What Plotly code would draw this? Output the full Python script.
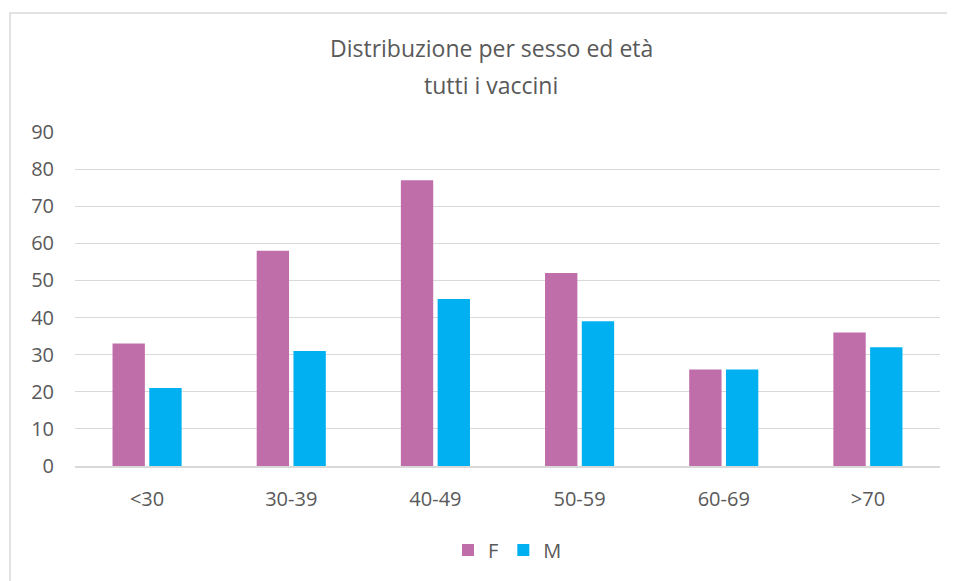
import plotly.graph_objects as go

categories = ["<30", "30-39", "40-49", "50-59", "60-69", ">70"]
f_values = [33, 58, 77, 52, 26, 36]
m_values = [21, 31, 45, 39, 26, 32]
y_ticks = [0, 10, 20, 30, 40, 50, 60, 70, 80, 90]
title_lines = ["Distribuzione per sesso ed età", "tutti i vaccini"]

fig = go.Figure()
fig.add_trace(go.Bar(name="F", x=categories, y=f_values, marker_color="#C06EAA",
                     marker_line_width=0))
fig.add_trace(go.Bar(name="M", x=categories, y=m_values, marker_color="#00B0F0",
                     marker_line_width=0))

# page body has an 8px margin, so figure coords = screen coords - 8
L, T, R, B = 67, 124, 932, 458
W, H = 955, 581
ph = B - T

fig.update_layout(
    width=W, height=H,
    margin=dict(l=L, r=W - R, t=T, b=H - B),
    paper_bgcolor="white", plot_bgcolor="white",
    font=dict(family="Open Sans, sans-serif", color="#595959", size=20),
    barmode="group", bargap=0.49, bargroupgap=0.12,
    xaxis=dict(showgrid=False, showline=True, linecolor="#D9D9D9", linewidth=1.5,
               ticks="", tickfont=dict(size=20, color="#595959"), ticklabelstandoff=14),
    yaxis=dict(range=[0, 90], tickvals=y_ticks, showgrid=True, gridcolor="#D9D9D9",
               gridwidth=1.2, zeroline=False, showline=False, ticks="",
               tickfont=dict(size=20, color="#595959"), ticklabelstandoff=20),
    legend=dict(orientation="h", x=0.5, xanchor="center", y=(B - 542) / ph, yanchor="middle",
                font=dict(size=20, color="#595959"), itemwidth=30, traceorder="normal",
                tracegroupgap=0),
    showlegend=True,
)
for line, ysc in zip(title_lines, [48, 85]):
    fig.add_annotation(text=line, xref="paper", yref="paper", x=(491 - 8 - L) / (R - L),
                       y=(B - (ysc - 8)) / ph, xanchor="center", yanchor="middle",
                       showarrow=False,
                       font=dict(size=23, color="#595959", family="Open Sans, sans-serif"))
fig.add_shape(type="rect", xref="paper", yref="paper",
              x0=(2 - L) / (R - L), x1=1.2, y0=-0.5, y1=(B - 5) / ph,
              line=dict(color="#D9D9D9", width=1.5), fillcolor="rgba(0,0,0,0)", layer="below")
fig.write_html("out.html")
